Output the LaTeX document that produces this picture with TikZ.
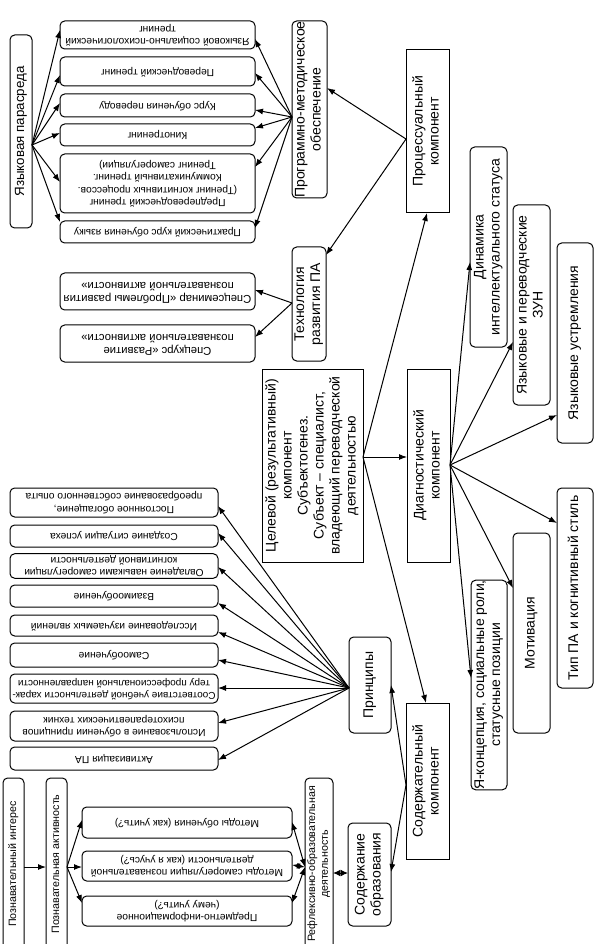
\documentclass[tikz,border=0pt]{standalone}
\usepackage{fontspec}
\setmainfont{Liberation Sans}
\usepackage{graphicx}
\usetikzlibrary{arrows.meta,calc}
\newcommand\fbig{\fontsize{10.5}{12}\selectfont}
\newcommand\flang{\fontsize{10}{12}\selectfont}
\newcommand\fmid{\fontsize{8.5}{10}\selectfont}
\newcommand\fsm{\fontsize{7.7}{9.2}\selectfont}
\newcommand\fsn{\fontsize{7.5}{9}\selectfont}
\newcommand\fsr{\fontsize{8}{9.5}\selectfont}
\newcommand\rv[2]{\rotatebox{90}{#1\begin{tabular}{@{}c@{}}#2\end{tabular}}}
\newcommand\ru[2]{\rotatebox{180}{#1\begin{tabular}{@{}c@{}}#2\end{tabular}}}
\newcommand\bx[7]{\node[#1, minimum width={(#5-#3)*0.75pt}, minimum height={(#6-#4)*0.75pt}] (#2) at ({(#3+#5)/2},{(#4+#6)/2}) {#7};}
\tikzset{
  rbox/.style={draw, rounded corners=3.5pt, line width=0.75pt, inner sep=0pt, outer sep=0pt, fill=white},
  sbox/.style={draw, line width=0.75pt, inner sep=0pt, outer sep=0pt, fill=white},
  arr/.style={-{Latex[length=6pt,width=4.5pt]}, line width=0.75pt},
  darr/.style={{Latex[length=6pt,width=4.5pt]}-{Latex[length=6pt,width=4.5pt]}, line width=0.75pt},
  dia/.style={{Latex[length=5.5pt,width=5pt]}-{Latex[length=5.5pt,width=5pt]}, line width=0.75pt}
}
\begin{document}
\begin{tikzpicture}[x=0.75pt,y=-0.75pt]
\fill[white] (0,0) rectangle (603,944);
\useasboundingbox (0,0) rectangle (603,944);
% --- left column
\bx{rbox}{lang}{10}{35}{32}{228}{\rv{\flang}{Языковая парасреда}}
\bx{rbox}{c1}{60}{21}{255}{49}{\ru{\fsm}{Языковой социально-психологический\\тренинг}}
\bx{rbox}{c2}{60}{57}{255}{86}{\ru{\fsm}{Переводческий тренинг}}
\bx{rbox}{c3}{60}{94}{255}{117}{\ru{\fsm}{Курс обучения переводу}}
\bx{rbox}{c4}{60}{124}{255}{146}{\ru{\fsm}{Кинотренинг}}
\bx{rbox}{c5}{60}{154}{255}{213}{\ru{\fsm}{Предпереводческий тренинг\\(Тренинг когнитивных процессов.\\Коммуникативный тренинг.\\Тренинг саморегуляции)}}
\bx{rbox}{c6}{60}{221}{255}{243}{\ru{\fsm}{Практический курс обучения языку}}
\bx{rbox}{prog}{292}{21}{327}{198}{\rv{\fbig}{Программно-методическое\\обеспечение}}
\bx{sbox}{proc}{406}{50}{449}{213}{\rv{\fbig}{Процессуальный\\компонент}}
\bx{rbox}{tech}{292}{247}{326}{361}{\rv{\fbig}{Технология\\развития ПА}}
\bx{rbox}{s1}{60}{273}{255}{310}{\ru{\fmid}{Спецсеминар «Проблемы развития\\познавательной активности»}}
\bx{rbox}{s2}{60}{325}{255}{362}{\ru{\fmid}{Спецкурс «Развитие\\познавательной активности»}}
% --- centre
\bx{sbox}{goal}{262}{369}{363}{562}{\rv{\fbig}{Целевой (результативный)\\компонент\\Субъектогенез.\\Субъект – специалист,\\владеющий переводческой\\деятельностью}}
\bx{sbox}{diag}{407}{369}{450}{562}{\rv{\fbig}{Диагностический\\компонент}}
\bx{rbox}{dyn}{470}{147}{507}{347}{\rv{\fbig}{Динамика\\интеллектуального статуса}}
\bx{rbox}{zun}{513}{205}{550}{405}{\rv{\fbig}{Языковые и переводческие\\ЗУН}}
\bx{rbox}{asp}{557}{243}{593}{443}{\rv{\fbig}{Языковые устремления}}
\bx{rbox}{type}{557}{488}{593}{688}{\rv{\fbig}{Тип ПА и когнитивный стиль}}
\bx{rbox}{motiv}{513}{533}{550}{733}{\rv{\fbig}{Мотивация}}
\bx{rbox}{self}{471}{585}{507}{785}{\rv{\fbig}{Я-концепция, социальные роли,\\статусные позиции}}
% --- principles
\bx{rbox}{princ}{349}{637}{391}{733}{\rv{\fbig}{Принципы}}
\bx{rbox}{p1}{10}{488}{218}{517}{\ru{\fsm}{Постоянное обогащение,\\преобразование собственного опыта}}
\bx{rbox}{p2}{10}{525}{218}{547}{\ru{\fsm}{Создание ситуации успеха}}
\bx{rbox}{p3}{10}{555}{218}{577}{\ru{\fsm}{Овладение навыками саморегуляции\\когнитивной деятельности}}
\bx{rbox}{p4}{10}{585}{218}{607}{\ru{\fsm}{Взаимообучение}}
\bx{rbox}{p5}{10}{615}{218}{636}{\ru{\fsm}{Исследование изучаемых явлений}}
\bx{rbox}{p6}{10}{643}{218}{667}{\ru{\fsm}{Самообучение}}
\bx{rbox}{p7}{10}{674}{218}{703}{\ru{\fsn}{Соответствие учебной деятельности харак-\\теру профессиональной направленности}}
\bx{rbox}{p8}{10}{711}{218}{741}{\ru{\fsm}{Использование в обучении принципов\\психотерапевтических техник}}
\bx{rbox}{p9}{10}{747}{218}{770}{\ru{\fsm}{Активизация ПА}}
\bx{sbox}{content}{406}{703}{449}{859}{\rv{\fbig}{Содержательный\\компонент}}
\bx{rbox}{edu}{348}{823}{391}{926}{\rv{\fbig}{Содержание\\образования}}
\bx{rbox}{refl}{305}{778}{333}{950}{\rv{\fsr}{Рефлексивно-образовательная\\деятельность}}
\bx{rbox}{m1}{82}{807}{292}{838}{\ru{\fsm}{Методы обучения (как учить?)}}
\bx{rbox}{m2}{82}{851}{292}{881}{\ru{\fsm}{Методы саморегуляции познавательной\\деятельности (как я учусь?)}}
\bx{rbox}{m3}{82}{896}{292}{926}{\ru{\fsm}{Предметно-информационное\\(чему учить?)}}
\bx{rbox}{pint}{3}{778}{24}{950}{\rv{\fsr}{Познавательный интерес}}
\bx{rbox}{pact}{46}{778}{67}{950}{\rv{\fsr}{Познавательная активность}}
% --- connectors
\coordinate (langO) at (lang.east |- 0,145);
\foreach \n/\y in {c1/30,c2/75,c3/103,c4/133,c5/182,c6/222} \draw[arr] (langO) -- (\n.west |- 0,\y);
\coordinate (progO) at (prog.west |- 0,117);
\foreach \n/\y in {c1/39,c2/73,c3/110,c4/128,c5/167,c6/228} \draw[arr] (progO) -- (\n.east |- 0,\y);
\coordinate (procO) at (proc.west |- 0,139);
\draw[arr] (procO) -- (prog.east |- 0,88);
\draw[arr] (procO) -- (tech.east |- 0,255);
\coordinate (techO) at (tech.west |- 0,303);
\draw[arr] (techO) -- (s1.east |- 0,290);
\draw[arr] (techO) -- (s2.east |- 0,337);
\coordinate (goalO) at (goal.east |- 0,457);
\draw[arr] (goalO) -- (diag.west |- 0,457);
\draw[arr] (goalO) -- (proc.south -| 427,0);
\draw[arr] (goalO) -- (content.north -| 426,0);
\coordinate (diagO) at (diag.east |- 0,465);
\draw[arr] (diagO) -- (dyn.west |- 0,262);
\draw[arr] (diagO) -- (zun.west |- 0,342);
\draw[arr] (diagO) -- (asp.west |- 0,415);
\draw[arr] (diagO) -- (type.west |- 0,523);
\draw[arr] (diagO) -- (motiv.west |- 0,588);
\draw[arr] (diagO) -- (self.west |- 0,678);
\coordinate (princO) at (princ.west |- 0,688);
\foreach \n/\y in {p1/506,p2/533,p3/567,p4/603,p5/632,p6/660,p7/688,p8/723,p9/760} \draw[arr] (princO) -- (\n.east |- 0,\y);
\coordinate (contO) at (content.west |- 0,785);
\draw[arr] (contO) -- (princ.east |- 0,685);
\draw[arr] (contO) -- (edu.east |- 0,872);
\draw[dia] (refl.east |- 0,873) -- (edu.west |- 0,873);
\coordinate (reflO) at (refl.west |- 0,867);
\foreach \n/\y in {m1/822,m2/865,m3/903} \draw[darr] (reflO) -- (\n.east |- 0,\y);
\draw[arr] (pint.east |- 0,867) -- (pact.west |- 0,867);
\coordinate (pactO) at (pact.east |- 0,867);
\foreach \n/\y in {m1/820,m2/867,m3/903} \draw[arr] (pactO) -- (\n.west |- 0,\y);
\end{tikzpicture}
\end{document}
